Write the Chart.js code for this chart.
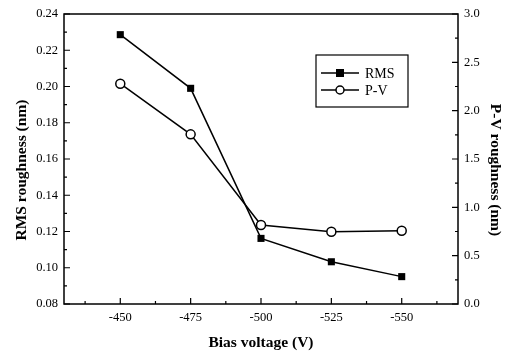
<!DOCTYPE html>
<html>
<head>
<meta charset="utf-8">
<script src="https://cdn.jsdelivr.net/npm/chart.js@4"></script>
<style>
  html, body { margin: 0; padding: 0; background: #fff; }
  #wrap { width: 508px; height: 351px; }
</style>
</head>
<body>
<div id="wrap"><canvas id="chart"></canvas></div>
<script>
// data
const biasVoltage = [-450, -475, -500, -525, -550];
const rmsRoughness = [0.2286, 0.199, 0.1162, 0.1033, 0.0951];
const pvRoughness = [2.279, 1.755, 0.817, 0.748, 0.758];
const xTicks = [-450, -475, -500, -525, -550];
const leftTicks = [0.08, 0.10, 0.12, 0.14, 0.16, 0.18, 0.20, 0.22, 0.24];
const rightTicks = [0.0, 0.5, 1.0, 1.5, 2.0, 2.5, 3.0];

const serif = "'Liberation Serif', 'DejaVu Serif', serif";
const titleFont = 'bold 15.5px ' + serif;

// inward ticks, full frame, axis titles and the boxed legend
const framePlugin = {
    id: 'frame',
    afterDraw(chart) {
        const ctx = chart.ctx;
        const a = chart.chartArea;
        const sx = chart.scales.x, yl = chart.scales.y, yr = chart.scales.y2;
        ctx.save();
        ctx.strokeStyle = '#000';
        ctx.lineWidth = 1.5;
        ctx.strokeRect(a.left, a.top, a.right - a.left, a.bottom - a.top);

        ctx.lineWidth = 1.2;
        ctx.beginPath();
        // x axis, major + minor
        for (let v = -437.5; v >= -562.5; v -= 12.5) {
            const px = sx.getPixelForValue(v);
            const major = xTicks.includes(v);
            ctx.moveTo(px, a.bottom);
            ctx.lineTo(px, a.bottom - (major ? 6 : 3));
        }
        // left axis
        for (let i = 0; i <= 16; i++) {
            const v = 0.08 + i * 0.01;
            const py = yl.getPixelForValue(v);
            ctx.moveTo(a.left, py);
            ctx.lineTo(a.left + (i % 2 === 0 ? 6 : 3), py);
        }
        // right axis
        for (let i = 0; i <= 12; i++) {
            const v = i * 0.25;
            const py = yr.getPixelForValue(v);
            ctx.moveTo(a.right, py);
            ctx.lineTo(a.right - (i % 2 === 0 ? 6 : 3), py);
        }
        ctx.stroke();

        // axis titles
        ctx.fillStyle = '#000';
        ctx.font = titleFont;
        ctx.textAlign = 'center';
        ctx.textBaseline = 'middle';
        ctx.fillText('Bias voltage (V)', (a.left + a.right) / 2, 343);

        ctx.save();
        ctx.translate(22, 170);
        ctx.rotate(-Math.PI / 2);
        ctx.fillText('RMS roughness (nm)', 0, 0);
        ctx.restore();

        ctx.save();
        ctx.translate(495, 170);
        ctx.rotate(Math.PI / 2);
        ctx.fillText('P-V roughness (nm)', 0, 0);
        ctx.restore();

        // legend
        ctx.textAlign = 'left';
        ctx.lineWidth = 1.2;
        ctx.strokeRect(316, 55, 92, 52);
        const rows = [
            { label: 'RMS', y: 73, style: 'rect' },
            { label: 'P-V', y: 90, style: 'circle' }
        ];
        ctx.font = '14px ' + serif;
        rows.forEach(r => {
            ctx.lineWidth = 1.5;
            ctx.beginPath();
            ctx.moveTo(321, r.y);
            ctx.lineTo(359, r.y);
            ctx.stroke();
            if (r.style === 'rect') {
                ctx.fillRect(336, r.y - 4, 8, 8);
            } else {
                ctx.beginPath();
                ctx.arc(340, r.y, 4, 0, Math.PI * 2);
                ctx.fillStyle = '#fff';
                ctx.fill();
                ctx.stroke();
                ctx.fillStyle = '#000';
            }
            ctx.fillText(r.label, 365, r.y + 1);
        });
        ctx.restore();
    }
};

new Chart(document.getElementById('chart'), {
    type: 'line',
    data: {
        datasets: [{
            label: 'RMS',
            data: biasVoltage.map((v, i) => ({ x: v, y: rmsRoughness[i] })),
            yAxisID: 'y',
            borderColor: '#000',
            backgroundColor: '#000',
            borderWidth: 1.5,
            pointStyle: 'rect',
            pointRadius: 5,
            pointBorderWidth: 0,
            tension: 0
        }, {
            label: 'P-V',
            data: biasVoltage.map((v, i) => ({ x: v, y: pvRoughness[i] })),
            yAxisID: 'y2',
            borderColor: '#000',
            backgroundColor: '#fff',
            borderWidth: 1.5,
            pointStyle: 'circle',
            pointRadius: 4.5,
            pointBorderWidth: 1.5,
            tension: 0
        }]
    },
    options: {
        responsive: true,
        maintainAspectRatio: false,
        animation: false,
        layout: { padding: { top: 14, left: 0, right: 0, bottom: 0 } },
        plugins: {
            legend: { display: false },
            tooltip: { enabled: false }
        },
        scales: {
            x: {
                type: 'linear',
                reverse: true,
                min: -570,
                max: -430,
                afterBuildTicks: (s) => { s.ticks = xTicks.map(v => ({ value: v })); },
                afterFit: (s) => { s.height = 47; },
                grid: { display: false, drawTicks: false },
                border: { display: false },
                ticks: {
                    padding: 6,
                    color: '#000',
                    font: { family: serif, size: 12.5 },
                    callback: (v) => String(v)
                }
            },
            y: {
                position: 'left',
                min: 0.08,
                max: 0.24,
                afterBuildTicks: (s) => { s.ticks = leftTicks.map(v => ({ value: v })); },
                afterFit: (s) => { s.width = 64; },
                grid: { display: false, drawTicks: false },
                border: { display: false },
                ticks: {
                    padding: 6,
                    color: '#000',
                    font: { family: serif, size: 12.5 },
                    callback: (v) => v.toFixed(2)
                }
            },
            y2: {
                position: 'right',
                min: 0,
                max: 3,
                afterBuildTicks: (s) => { s.ticks = rightTicks.map(v => ({ value: v })); },
                afterFit: (s) => { s.width = 50; },
                grid: { display: false, drawTicks: false },
                border: { display: false },
                ticks: {
                    padding: 6,
                    color: '#000',
                    font: { family: serif, size: 12.5 },
                    callback: (v) => v.toFixed(1)
                }
            }
        }
    },
    plugins: [framePlugin]
});
</script>
</body>
</html>
